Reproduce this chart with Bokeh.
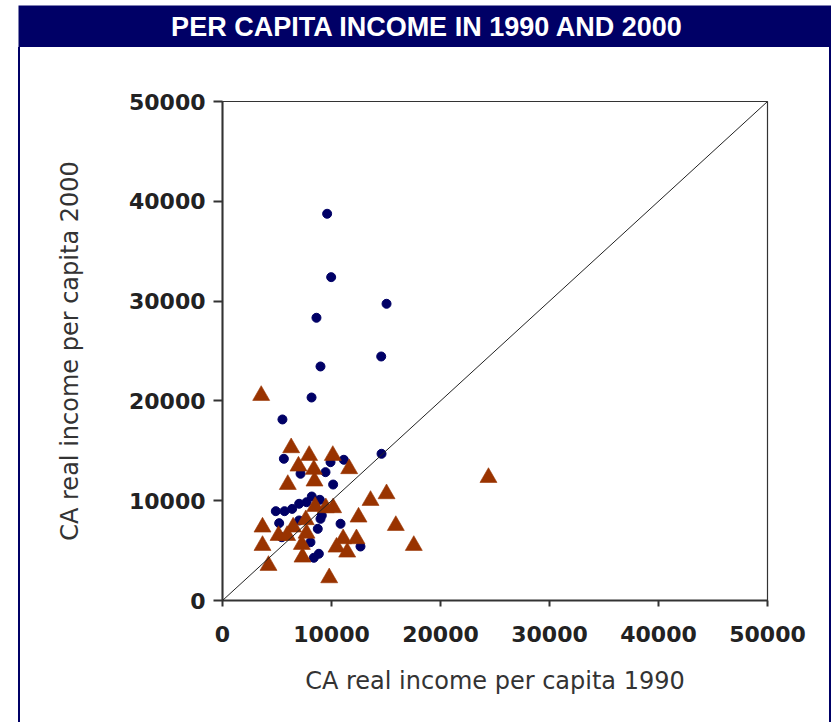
from bokeh.plotting import figure
from bokeh.layouts import column, row
from bokeh.models import Range1d, FixedTicker, ColumnDataSource, Slope, Spacer
from bokeh.core.properties import value
from bokeh.embed import file_html
from bokeh.resources import INLINE

title_text = "PER CAPITA INCOME IN 1990 AND 2000"
x_label = "CA real income per capita 1990"
y_label = "CA real income per capita 2000"
tick_values = [0, 10000, 20000, 30000, 40000, 50000]

# circles (navy)
circ_1990 = [9600, 9970, 15050, 8620, 8990, 14560, 8170, 5500,
             5630, 7160, 9910, 11130, 9450, 10150, 14590,
             4890, 5690, 6390, 7030, 7710, 8190, 8930,
             5200, 7030, 8740, 10830, 8990, 8070, 12660, 8380, 8840, 5440, 9110]
circ_2000 = [38750, 32400, 29730, 28330, 23450, 24450, 20340, 18140,
             14200, 12700, 13860, 14100, 12860, 11620, 14700,
             8950, 8950, 9180, 9690, 9850, 10420, 10090,
             7750, 8020, 7180, 7690, 8180, 5840, 5410, 4280, 4680, 6340, 8520]

# triangles (brown)
tri_1990 = [3550, 6300, 7950, 10120, 6970, 8380, 11620, 5990, 8440, 13580, 15050,
            8500, 9480, 10150, 12480, 3670, 7640, 6480, 15900, 5140, 5930, 7710,
            3670, 11070, 12290, 7280, 10460, 11440, 17550, 7340, 4220, 9790, 24400]
tri_2000 = [20540, 15300, 14530, 14530, 13460, 13130, 13200, 11620, 11960, 10020, 10690,
            9420, 9290, 9290, 8350, 7350, 8090, 7350, 7510, 6510, 6510, 6740,
            5510, 6180, 6180, 5610, 5340, 4840, 5510, 4340, 3510, 2270, 12320]

NAVY = "#000066"
BROWN = "#993300"

# title bar
t = figure(width=813, height=42, x_range=Range1d(0, 1), y_range=Range1d(0, 1),
           output_backend="svg", toolbar_location=None, min_border=0,
           background_fill_color=NAVY, border_fill_color=NAVY, outline_line_color=None)
t.axis.visible = False
t.grid.visible = False
t.text(x=[0.503], y=[0.5], text=[title_text], text_color="white",
       text_font=value("Liberation Sans"), text_font_style="bold",
       text_font_size="27px", text_align="center", text_baseline="middle")

p = figure(width=809, height=675, x_range=Range1d(0, 50000), y_range=Range1d(0, 50000),
           output_backend="svg", toolbar_location=None,
           min_border_left=202, min_border_right=62, min_border_top=54, min_border_bottom=122,
           background_fill_color="white", border_fill_color="white",
           outline_line_color="#333333", outline_line_width=1.2)
p.grid.visible = False

for ax in (p.xaxis[0], p.yaxis[0]):
    ax.ticker = FixedTicker(ticks=tick_values)
    ax.minor_tick_line_color = None
    ax.axis_line_color = "#333333"
    ax.axis_line_width = 2
    ax.major_tick_line_color = "#333333"
    ax.major_tick_line_width = 2
    ax.major_tick_in = 0
    ax.major_label_text_font = "DejaVu Sans"
    ax.major_label_text_font_style = "bold"
    ax.major_label_text_font_size = "22px"
    ax.major_label_text_color = "#222222"
    ax.axis_label_text_font = "DejaVu Sans"
    ax.axis_label_text_font_style = "normal"
    ax.axis_label_text_font_size = "24px"
    ax.axis_label_text_color = "#333333"

p.xaxis.axis_label = x_label
p.yaxis.axis_label = y_label
p.xaxis.major_tick_out = 6
p.xaxis.major_label_standoff = 19
p.xaxis.axis_label_standoff = 22
p.yaxis.major_tick_out = 9
p.yaxis.major_label_standoff = 8
p.yaxis.axis_label_standoff = 42
p.yaxis.major_label_orientation = "horizontal"

p.add_layout(Slope(gradient=1, y_intercept=0, line_color="#222222", line_width=1))

src_c = ColumnDataSource(dict(x=circ_1990, y=circ_2000))
src_t = ColumnDataSource(dict(x=tri_1990, y=tri_2000))
p.scatter("x", "y", source=src_c, marker="circle", size=9,
          fill_color=NAVY, line_color=NAVY)
p.scatter("x", "y", source=src_t, marker="triangle", size=17,
          fill_color=BROWN, line_color=BROWN, line_alpha=0.6)

top = column(Spacer(width=831, height=5), row(Spacer(width=18, height=42), t, spacing=0), spacing=0)
edge_l = Spacer(width=2, height=675, styles={"background-color": NAVY})
edge_r = Spacer(width=2, height=675, styles={"background-color": NAVY})
bottom = row(Spacer(width=18, height=675), edge_l, p, edge_r, spacing=0)

open("out.html", "w").write(file_html([top, bottom], INLINE))
